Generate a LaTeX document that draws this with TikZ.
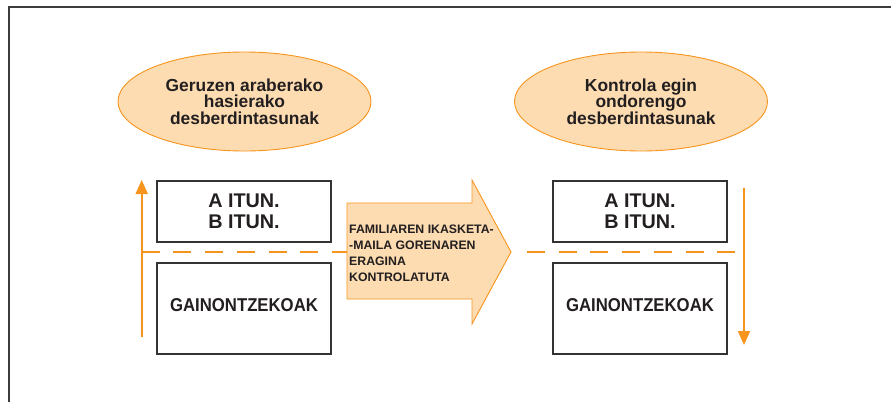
\documentclass[tikz,border=0pt]{standalone}
\usepackage{fontspec}
\setmainfont{Liberation Sans}
\usepackage{graphicx}
\usetikzlibrary{shapes.geometric,arrows.meta}
\definecolor{orng}{HTML}{F7941D}
\definecolor{peach}{HTML}{FDDCB1}
\definecolor{ink}{HTML}{231F20}
\definecolor{boxline}{HTML}{333333}
\definecolor{framegray}{HTML}{3C3C3C}
\begin{document}
\begin{tikzpicture}[x=1pt,y=-1pt,
  bubble/.style={ellipse, draw=orng, line width=0.9pt, fill=peach,
    minimum width=253pt, minimum height=99pt, inner sep=0pt, align=center,
    text=ink, font=\bfseries\fontsize{17.4}{16.7}\selectfont},
  boxnode/.style={rectangle, draw=boxline, line width=1.2pt, fill=white,
    minimum width=174pt, inner sep=0pt, align=center, text=ink},
  upper/.style={boxnode, minimum height=61pt,
    font=\bfseries\fontsize{19.8}{20.7}\selectfont},
  lower/.style={boxnode, minimum height=91pt, text depth=7pt,
    font=\bfseries\fontsize{18.6}{20}\selectfont},
  bigarrow/.style={draw=orng, line width=0.9pt, fill=peach},
  arrowtext/.style={anchor=west, inner sep=0pt, align=left, text=ink,
    font=\bfseries\fontsize{12.3}{16}\selectfont},
  orline/.style={draw=orng, line width=2pt},
  orarrow/.style={orline, -{Triangle[width=12pt,length=14pt]}},
  dashline/.style={orline, dash pattern=on 18pt off 13.7pt},
  frameline/.style={draw=framegray, line width=1.6pt}
]
\useasboundingbox (0,0) rectangle (891,402);
% frame (open: top and left)
\draw[frameline] (9,402) -- (9,7) -- (891,7);

% ellipses
\node[bubble] (e1) at (244.5,101.5) {Geruzen araberako\\hasierako\\desberdintasunak};
\node[bubble] (e2) at (641,101.5) {Kontrola egin\\ondorengo\\desberdintasunak};

% left boxes
\node[upper] (b1a) at (244,211.5) {A ITUN.\\B ITUN.};
\node[lower] (b1b) at (244,308.5) {\scalebox{0.9}[1]{GAINONTZEKOAK}};
% right boxes
\node[upper] (b2a) at (640,211.5) {A ITUN.\\B ITUN.};
\node[lower] (b2b) at (640,308.5) {\scalebox{0.9}[1]{GAINONTZEKOAK}};

% big arrow
\coordinate (arL) at (347,252);
\coordinate (tip) at (511,252);
\draw[bigarrow] (347,203) -- (472,203) -- (472,180) -- (tip) -- (472,324)
  -- (472,299) -- (347,299) -- cycle;
\node[arrowtext] (fam) at (349,253)
  {FAMILIAREN IKASKETA-\\-MAILA GORENAREN\\ERAGINA\\KONTROLATUTA};

% left vertical arrow and dashed line
\coordinate (lbot) at (141.7,337);
\coordinate (ltop) at (141.7,180);
\coordinate (ldash) at (141.7,252);
\draw[orarrow] (lbot) -- (ltop);
\draw[dashline] (ldash) -- (arL);

% right dashed line and vertical arrow
\coordinate (rstart) at (527,252);
\coordinate (rdash) at (744,252);
\coordinate (rtop) at (744,188);
\coordinate (rbot) at (744,345);
\draw[dashline] (rstart) -- (rdash);
\draw[orarrow] (rtop) -- (rbot);
\end{tikzpicture}
\end{document}
